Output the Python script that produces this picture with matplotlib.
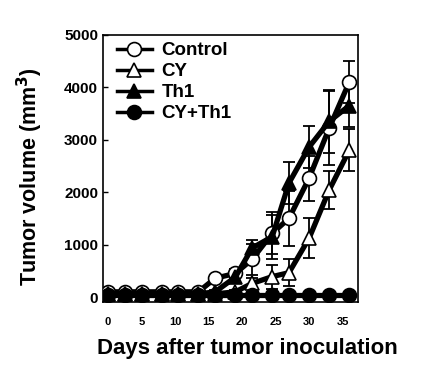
import matplotlib
matplotlib.use("Agg")
import matplotlib.pyplot as plt

plt.rcParams['font.family'] = ['Liberation Sans', 'DejaVu Sans']
plt.rcParams['font.weight'] = 'bold'

# days after inoculation
days = [0, 2.5, 5, 8, 10.5, 13.5, 16, 19, 21.5, 24.5, 27, 30, 33, 36]

# tumor volumes (mm^3)
control = [100, 100, 100, 100, 100, 100, 360, 450, 720, 1215, 1500, 2265, 3220, 4100]
control_err = [0, 0, 0, 0, 0, 0, 60, 80, 300, 400, 520, 430, 700, 400]
cy = [60, 60, 60, 60, 60, 60, 60, 100, 260, 390, 465, 1120, 2040, 2800]
cy_err = [0, 0, 0, 0, 0, 0, 0, 40, 100, 230, 260, 380, 370, 400]
th1 = [60, 60, 60, 60, 60, 60, 100, 380, 935, 1150, 2175, 2860, 3350, 3650]
th1_err = [0, 0, 0, 0, 0, 0, 30, 80, 150, 420, 400, 400, 600, 400]
cy_th1 = [40, 40, 40, 40, 40, 40, 40, 40, 40, 40, 40, 40, 40, 40]
cy_th1_err = [0] * 14

labels = ['Control', 'CY', 'Th1', 'CY+Th1']
xticks = [0, 5, 10, 15, 20, 25, 30, 35]
yticks = [0, 1000, 2000, 3000, 4000, 5000]

fig = plt.figure(figsize=(4.3, 3.67), dpi=100)
ax = fig.add_axes([0.2395, 0.177, 0.593, 0.728])

series = [
    (control, control_err, 'o', 'white'),
    (cy, cy_err, '^', 'white'),
    (th1, th1_err, '^', 'black'),
    (cy_th1, cy_th1_err, 'o', 'black'),
]
for (vals, err, mk, fc), lab in zip(series, labels):
    ax.errorbar(days, vals, yerr=err, fmt='none', ecolor='black',
                elinewidth=1.3, capsize=4.5, capthick=1.3, zorder=2)
    ax.plot(days, vals, color='black', lw=3.8, marker=mk, markersize=10,
            markerfacecolor=fc, markeredgecolor='black', markeredgewidth=1.2,
            label=lab, zorder=3)

ax.set_xlim(-0.75, 37.3)
ax.set_ylim(-95, 5000)
ax.set_xticks(xticks)
ax.set_yticks(yticks)
ax.tick_params(axis='x', length=0, pad=11, labelsize=8)
ax.tick_params(axis='y', direction='in', length=3.5, width=1, labelsize=11)
for s in ax.spines.values():
    s.set_linewidth(1.2)

ax.set_ylabel('Tumor volume (mm$^\\mathbf{3}$)', fontsize=15.5, fontweight='bold')
ax.yaxis.set_label_coords(-0.227, 0.47)
ax.set_xlabel('Days after tumor inoculation', fontsize=16, fontweight='bold')
ax.xaxis.set_label_coords(0.565, -0.135)

leg = ax.legend(loc='upper left', bbox_to_anchor=(0.024, 1.0), frameon=False,
                fontsize=13.5, handlelength=1.9, handletextpad=0.5,
                labelspacing=0.2, borderaxespad=0.0)
for line in leg.get_lines():
    line.set_linewidth(2.5)

fig.savefig('out.png', dpi=100)
